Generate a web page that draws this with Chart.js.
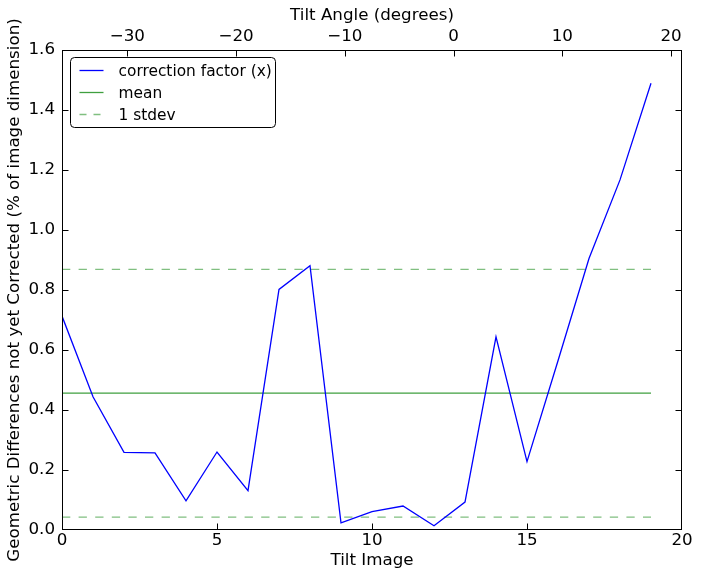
<!DOCTYPE html>
<html>
<head>
<meta charset="utf-8">
<script src="https://cdn.jsdelivr.net/npm/chart.js@4.4.1/dist/chart.umd.min.js"></script>
<style>
  html, body { margin: 0; padding: 0; background: #fff; }
  #wrap { width: 701px; height: 579px; position: relative; }
</style>
</head>
<body>
<div id="wrap"><canvas id="grafico"></canvas></div>
<script>
// dados
const tiltImage = [0, 1, 2, 3, 4, 5, 6, 7, 8, 9, 10, 11, 12, 13, 14, 15, 16, 17, 18, 19];
const correctionFactor = [0.713, 0.444, 0.259, 0.257, 0.097, 0.26, 0.131, 0.802, 0.881, 0.024,
  0.061, 0.08, 0.014, 0.093, 0.644, 0.228, 0.564, 0.905, 1.167, 1.489];
const meanValue = 0.456;
const stdevUpper = 0.869;
const stdevLower = 0.043;

// eixos
const imageTicks = [0, 5, 10, 15, 20];
const yTicks = [0, 0.2, 0.4, 0.6, 0.8, 1.0, 1.2, 1.4, 1.6];
const tiltAngleRange = [-36, 21];
const tiltAngleTicks = [-30, -20, -10, 0, 10, 20];

const fonte = { family: "'DejaVu Sans', sans-serif", size: 16.7 };
const fonteLegenda = { family: "'DejaVu Sans', sans-serif", size: 15.4 };
const GlinhaFator = document.getElementById("grafico");

const corAzul = "#0000ff";
const corMedia = "#3f9f3f";
const corDesvio = "#80bf80";

const primeiro = tiltImage[0];
const ultimo = tiltImage[tiltImage.length - 1];

function linhaHorizontal(valor) {
  return [{ x: primeiro, y: valor }, { x: ultimo, y: valor }];
}

const legendaItens = [
  { texto: "correction factor (x)", cor: corAzul, dash: [] },
  { texto: "mean", cor: corMedia, dash: [] },
  { texto: "1 stdev", cor: corDesvio, dash: [7, 7] },
];

// moldura, ticks para dentro e legenda
const estiloMatplotlib = {
  id: "estiloMatplotlib",
  afterDatasetsDraw(chart) {
    const ctx = chart.ctx;
    const a = chart.chartArea;
    const L = Math.round(a.left) + 0.5;
    const R = Math.round(a.right) - 0.5;
    const T = Math.round(a.top) + 0.5;
    const B = Math.round(a.bottom) - 0.5;
    const tam = 6;
    ctx.save();
    ctx.strokeStyle = "#000";
    ctx.lineWidth = 1;
    ctx.beginPath();
    chart.scales.y.ticks.forEach(function (t) {
      const py = Math.round(chart.scales.y.getPixelForValue(t.value)) + 0.5;
      if (py <= T + 1 || py >= B - 1) return;
      ctx.moveTo(L, py); ctx.lineTo(L + tam, py);
      ctx.moveTo(R, py); ctx.lineTo(R - tam, py);
    });
    chart.scales.x.ticks.forEach(function (t) {
      const px = Math.round(chart.scales.x.getPixelForValue(t.value)) + 0.5;
      if (px <= L + 1 || px >= R - 1) return;
      ctx.moveTo(px, B); ctx.lineTo(px, B - tam);
    });
    chart.scales.x2.ticks.forEach(function (t) {
      const px = Math.round(chart.scales.x2.getPixelForValue(t.value)) + 0.5;
      ctx.moveTo(px, T); ctx.lineTo(px, T + tam);
    });
    ctx.stroke();
    ctx.strokeRect(L, T, R - L, B - T);
    ctx.restore();
  },
  afterDraw(chart) {
    const ctx = chart.ctx;
    const a = chart.chartArea;
    const bx = a.left + 8.5, by = a.top + 7.5, bw = 205, bh = 70, r = 4;
    ctx.save();
    ctx.fillStyle = "#fff";
    ctx.strokeStyle = "#000";
    ctx.lineWidth = 1;
    ctx.beginPath();
    ctx.roundRect(bx, by, bw, bh, r);
    ctx.fill();
    ctx.stroke();
    ctx.font = fonteLegenda.size + "px " + fonteLegenda.family;
    ctx.textBaseline = "middle";
    ctx.textAlign = "left";
    for (let i = 0; i < legendaItens.length; i++) {
      const yy = by + 13 + i * 22;
      ctx.strokeStyle = legendaItens[i].cor;
      ctx.lineWidth = 1.3;
      ctx.setLineDash(legendaItens[i].dash);
      ctx.beginPath();
      ctx.moveTo(bx + 9, yy);
      ctx.lineTo(bx + 33, yy);
      ctx.stroke();
      ctx.setLineDash([]);
      ctx.fillStyle = "#000";
      ctx.fillText(legendaItens[i].texto, bx + 48, yy + 1);
    }
    ctx.restore();
  },
};

new Chart(GlinhaFator, {
  type: "line",
  data: {
    datasets: [
      {
        label: "correction factor (x)",
        data: tiltImage.map(function (v, i) { return { x: v, y: correctionFactor[i] }; }),
        borderColor: corAzul,
        borderWidth: 1.3,
        pointRadius: 0,
        tension: 0,
      },
      {
        label: "mean",
        data: linhaHorizontal(meanValue),
        borderColor: corMedia,
        borderWidth: 1.3,
        pointRadius: 0,
      },
      {
        label: "1 stdev",
        data: linhaHorizontal(stdevUpper),
        borderColor: corDesvio,
        borderWidth: 1.3,
        borderDash: [8.3, 8.3],
        pointRadius: 0,
      },
      {
        label: "1 stdev baixo",
        data: linhaHorizontal(stdevLower),
        borderColor: corDesvio,
        borderWidth: 1.3,
        borderDash: [8.3, 8.3],
        pointRadius: 0,
      },
    ],
  },
  options: {
    responsive: true,
    maintainAspectRatio: false,
    animation: false,
    layout: { padding: { left: 0, right: 19, top: 0, bottom: 0 } },
    plugins: {
      legend: { display: false },
      tooltip: { enabled: false },
    },
    scales: {
      x: {
        type: "linear",
        position: "bottom",
        min: imageTicks[0],
        max: imageTicks[imageTicks.length - 1],
        afterBuildTicks: function (s) { s.ticks = imageTicks.map(function (v) { return { value: v }; }); },
        afterFit: function (s) { s.height = 49; },
        grid: { display: false, drawTicks: false },
        border: { display: false },
        ticks: { color: "#000", font: fonte, padding: 1, maxRotation: 0 },
        title: { display: true, text: "Tilt Image", color: "#000", font: fonte, padding: { top: 0, bottom: 8 } },
      },
      x2: {
        type: "linear",
        position: "top",
        min: tiltAngleRange[0],
        max: tiltAngleRange[1],
        afterBuildTicks: function (s) { s.ticks = tiltAngleTicks.map(function (v) { return { value: v }; }); },
        afterFit: function (s) { s.height = 50; },
        grid: { display: false, drawTicks: false },
        border: { display: false },
        ticks: {
          color: "#000", font: fonte, padding: 3, maxRotation: 0,
          callback: function (v) { return v < 0 ? "\u2212" + Math.abs(v) : String(v); },
        },
        title: { display: true, text: "Tilt Angle (degrees)", color: "#000", font: fonte, padding: { top: 6, bottom: 0 } },
      },
      y: {
        type: "linear",
        min: yTicks[0],
        max: yTicks[yTicks.length - 1],
        afterBuildTicks: function (s) { s.ticks = yTicks.map(function (v) { return { value: v }; }); },
        afterFit: function (s) { s.width = 62; },
        grid: { display: false, drawTicks: false },
        border: { display: false },
        ticks: {
          color: "#000", font: fonte, padding: 7,
          callback: function (v) { return Number(v).toFixed(1); },
        },
        title: {
          display: true,
          text: "Geometric Differences not yet Corrected (% of image dimension)",
          color: "#000", font: fonte, padding: { top: 5, bottom: 0 },
        },
      },
    },
  },
  plugins: [estiloMatplotlib],
});
</script>
</body>
</html>
